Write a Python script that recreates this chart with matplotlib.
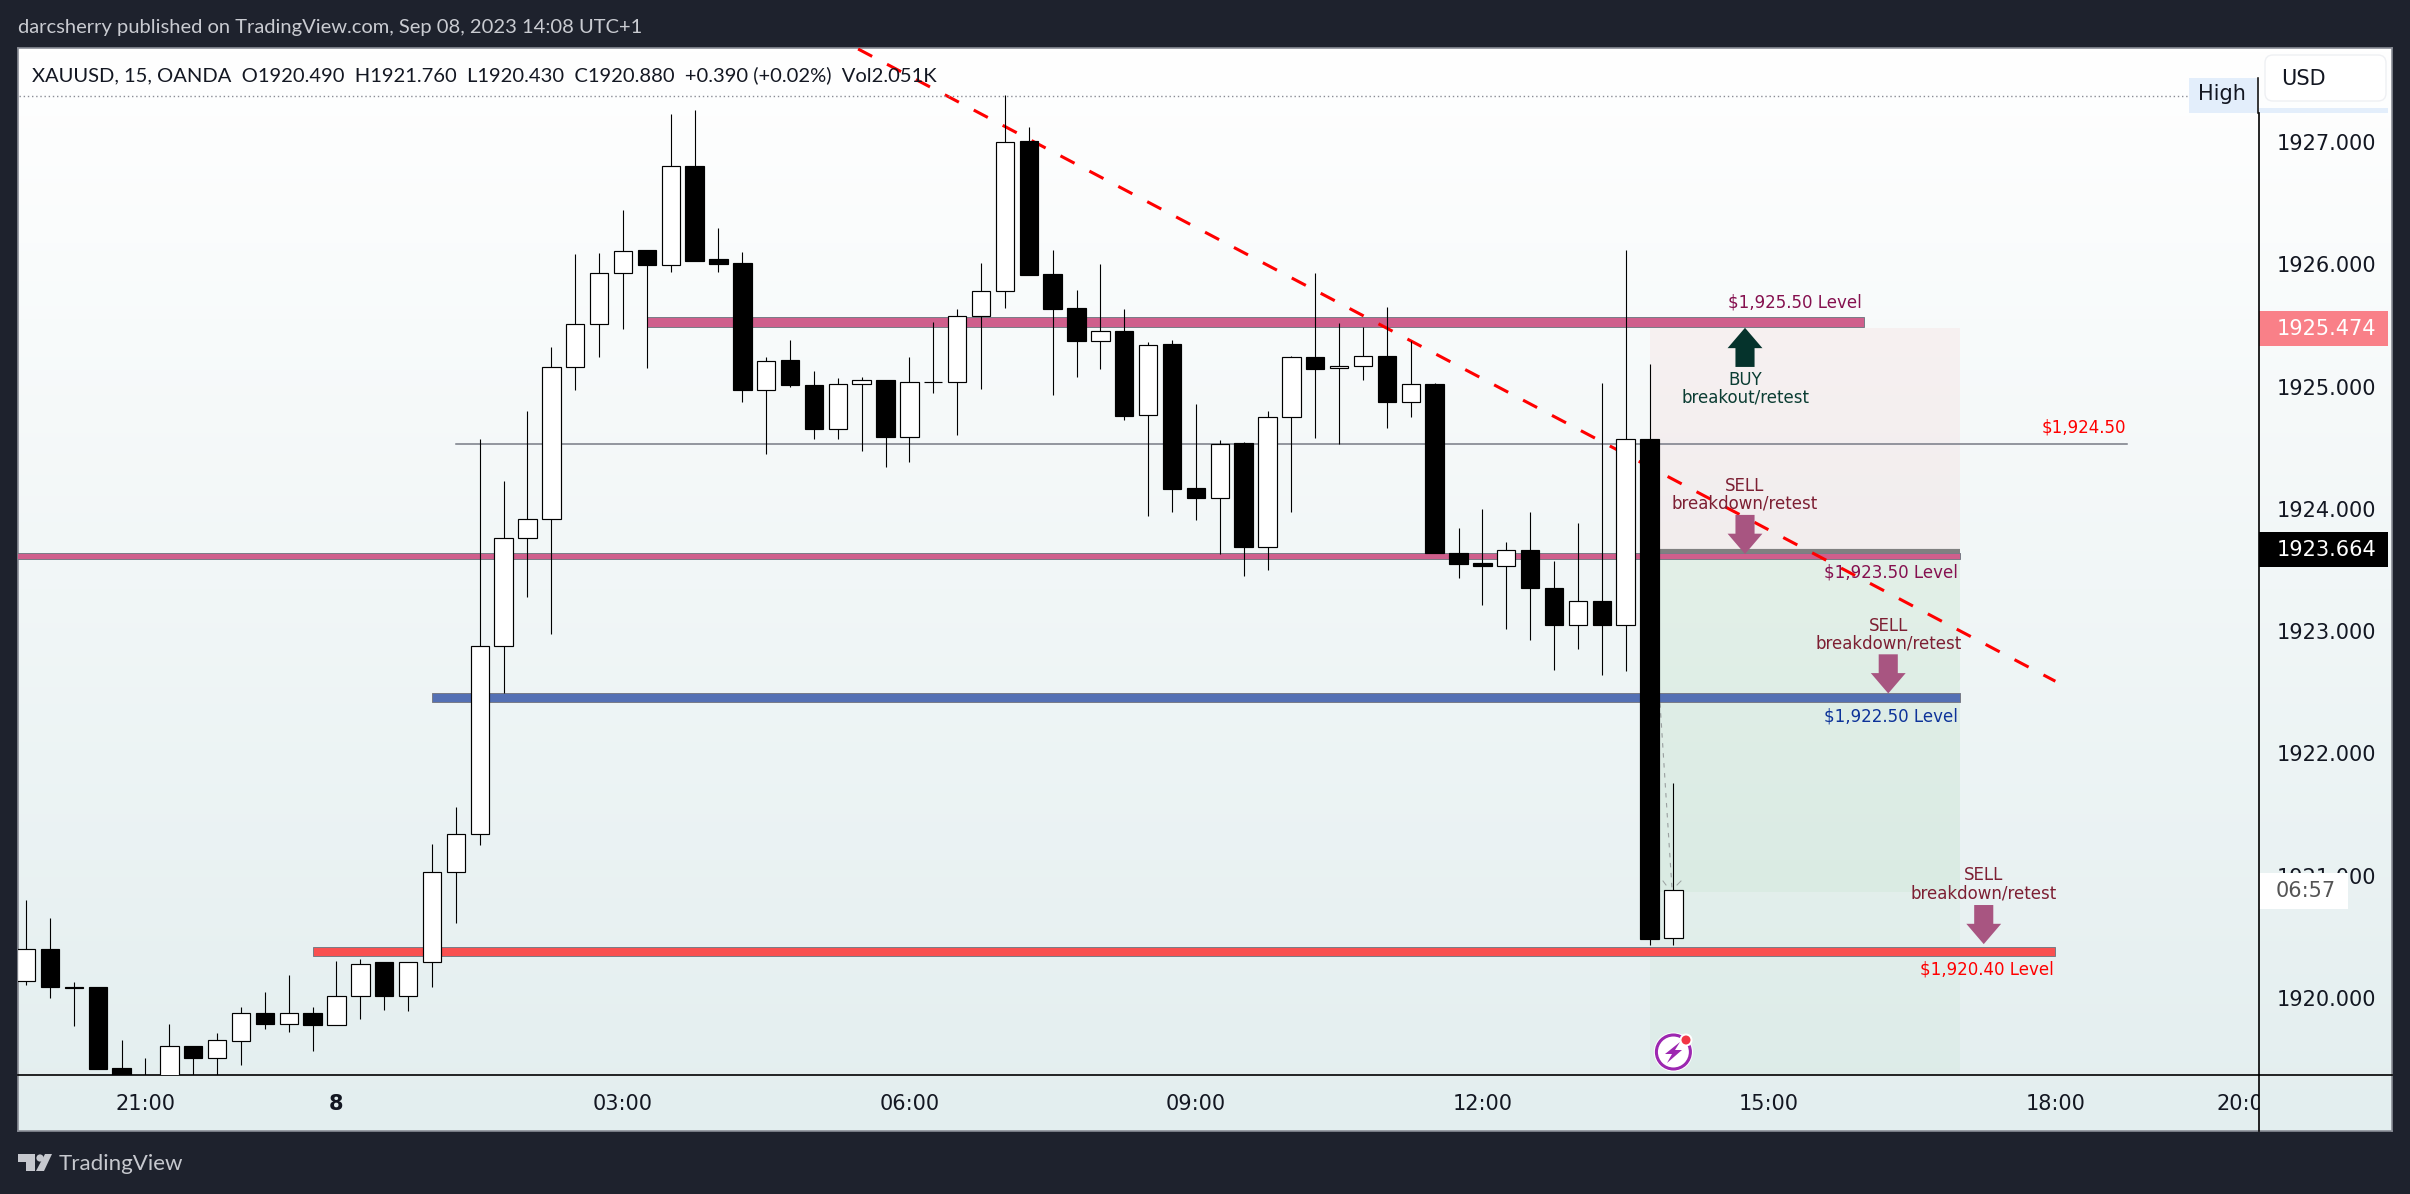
import numpy as np
import matplotlib
matplotlib.use("Agg")
import matplotlib.pyplot as plt
from matplotlib.patches import Rectangle, Polygon, Circle, FancyBboxPatch
from matplotlib.transforms import Bbox

W, H = 2410, 1194
DARK = "#1E222D"

# ---- candles (one every 15 minutes) ----
opens = [1920.14, 1920.40, 1920.09, 1920.09, 1919.43, 1919.25, 1919.30, 1919.61, 1919.51, 1919.65,
         1919.88, 1919.79, 1919.88, 1919.78, 1920.02, 1920.29, 1920.02, 1920.29, 1921.03, 1921.34,
         1922.88, 1923.76, 1923.92, 1925.16, 1925.51, 1925.93, 1926.12, 1925.99, 1926.80, 1926.04,
         1926.01, 1924.97, 1925.22, 1925.01, 1924.65, 1925.02, 1925.05, 1924.59, 1925.04, 1925.04,
         1925.58, 1925.78, 1927.01, 1925.92, 1925.64, 1925.37, 1925.45, 1924.77, 1925.35, 1924.17,
         1924.09, 1924.54, 1923.69, 1924.75, 1925.24, 1925.15, 1925.17, 1925.25, 1924.87, 1925.02,
         1923.64, 1923.56, 1923.53, 1923.66, 1923.35, 1923.05, 1923.25, 1923.05, 1924.57, 1920.49]
highs = [1920.80, 1920.65, 1920.13, 1920.09, 1919.66, 1919.51, 1919.79, 1919.61, 1919.71, 1919.93,
         1920.05, 1920.19, 1919.93, 1920.30, 1920.32, 1920.29, 1920.29, 1921.26, 1921.56, 1924.57,
         1924.23, 1924.80, 1925.32, 1926.08, 1926.09, 1926.44, 1926.12, 1927.23, 1927.26, 1926.30,
         1926.10, 1925.24, 1925.38, 1925.13, 1925.07, 1925.08, 1925.05, 1925.24, 1925.53, 1925.63,
         1926.01, 1927.38, 1927.12, 1926.12, 1925.79, 1926.00, 1925.63, 1925.36, 1925.38, 1924.86,
         1924.56, 1924.55, 1924.80, 1925.25, 1925.93, 1925.52, 1925.49, 1925.65, 1925.37, 1925.03,
         1923.84, 1924.00, 1923.73, 1923.97, 1923.57, 1923.88, 1925.03, 1926.12, 1925.18, 1921.76]
lows = [1920.11, 1920.00, 1919.77, 1919.42, 1919.20, 1919.10, 1919.20, 1919.30, 1919.30, 1919.45,
        1919.75, 1919.72, 1919.57, 1919.78, 1919.83, 1919.90, 1919.89, 1920.09, 1920.61, 1921.25,
        1922.49, 1923.28, 1922.98, 1924.97, 1925.24, 1925.47, 1925.15, 1925.94, 1926.03, 1925.94,
        1924.87, 1924.45, 1925.00, 1924.57, 1924.57, 1924.47, 1924.34, 1924.38, 1924.95, 1924.60,
        1924.98, 1925.64, 1925.91, 1924.93, 1925.08, 1925.14, 1924.73, 1923.94, 1923.97, 1923.91,
        1923.63, 1923.45, 1923.50, 1923.97, 1924.58, 1924.53, 1925.05, 1924.66, 1924.75, 1923.64,
        1923.43, 1923.21, 1923.02, 1922.93, 1922.68, 1922.85, 1922.64, 1922.67, 1920.43, 1920.43]
closes = [1920.40, 1920.09, 1920.08, 1919.42, 1919.30, 1919.33, 1919.61, 1919.51, 1919.66, 1919.88,
          1919.79, 1919.88, 1919.78, 1920.02, 1920.28, 1920.02, 1920.29, 1921.03, 1921.34, 1922.88,
          1923.76, 1923.92, 1925.16, 1925.51, 1925.93, 1926.11, 1925.99, 1926.80, 1926.03, 1926.00,
          1924.97, 1925.21, 1925.01, 1924.65, 1925.02, 1925.05, 1924.59, 1925.04, 1925.04, 1925.58,
          1925.78, 1927.00, 1925.91, 1925.63, 1925.37, 1925.45, 1924.76, 1925.34, 1924.16, 1924.09,
          1924.53, 1923.69, 1924.75, 1925.24, 1925.14, 1925.17, 1925.25, 1924.87, 1925.02, 1923.64,
          1923.55, 1923.53, 1923.66, 1923.35, 1923.05, 1923.25, 1923.05, 1924.57, 1920.48, 1920.88]

# ---- axes labels ----
time_ticks = [5, 13, 25, 37, 49, 61, 73, 85, 93]
time_labels = ["21:00", "8", "03:00", "06:00", "09:00", "12:00", "15:00", "18:00", "20:00"]
price_ticks = [1920, 1921, 1922, 1923, 1924, 1925, 1926, 1927]
price_labels = ["1920.000", "1921.000", "1922.000", "1923.000", "1924.000", "1925.000", "1926.000", "1927.000"]

# ---- support / resistance bands ----
band_starts = [26, -2, 17, 12]
band_ends = [77, 81, 81, 85]
band_tops = [1925.57, 1923.64, 1922.49, 1920.42]
band_bottoms = [1925.49, 1923.59, 1922.42, 1920.34]
band_colors = ["#CF5F8C", "#CF5F8C", "#5470B4", "#F95050"]

# ---- position tool shading ----
shade_starts = [68, 68, 68]
shade_ends = [81, 81, 81]
shade_tops = [1925.48, 1923.66, 1920.87]
shade_bottoms = [1923.66, 1920.87, 1919.0]
shade_colors = ["#F23645", "#4CAF50", "#4CAF50"]
shade_alphas = [0.05, 0.09, 0.045]

trend_x = [34.85, 85]
trend_y = [1927.76, 1922.59]
mid_line_x = [18, 88]
mid_line_y = [1924.53, 1924.53]
guide_x = [68.44, 68.94]
guide_y = [1922.41, 1920.90]

# ---- arrows: x, tip price, base price ----
arrow_x = [72, 72, 78, 82]
arrow_tip = [1925.48, 1923.63, 1922.49, 1920.44]
arrow_base = [1925.16, 1923.95, 1922.81, 1920.76]
arrow_colors = ["#05332C", "#A85581", "#A85581", "#A85581"]

note_x = [72, 72, 78, 82]
note_y = [1924.985, 1924.115, 1922.97, 1920.93]
note_text = ["BUY\nbreakout/retest"] + ["SELL\nbreakdown/retest"] * 3
note_colors = ["#0B3D33", "#7D1F33", "#7D1F33", "#7D1F33"]

level_x = [76.9, 80.92, 80.92, 84.94, 87.96]
level_y = [1925.69, 1923.475, 1922.30, 1920.23, 1924.665]
level_text = ["$1,925.50 Level", "$1,923.50 Level", "$1,922.50 Level", "$1,920.40 Level", "$1,924.50"]
level_colors = ["#85104F", "#85104F", "#0D3399", "#FF0000", "#FF0000"]

tag_prices = [1925.474, 1923.664]
tag_colors = ["#F98088", "#000000"]


def px_box(left, top, right, bottom):
    return [left / W, 1 - bottom / H, (right - left) / W, (bottom - top) / H]


fig = plt.figure(figsize=(W / 100, H / 100), dpi=100, facecolor=DARK)

# gradient behind the whole panel
bg = fig.add_axes(px_box(18, 48, 2392, 1131))
grad = np.linspace(0, 1, 256)[:, None]
rgb = np.zeros((256, 1, 3))
for k, (a, b) in enumerate(zip((255, 255, 255), (0xE3, 0xEE, 0xEF))):
    rgb[:, 0, k] = (a + (b - a) * grad[:, 0]) / 255
bg.imshow(rgb, aspect="auto", extent=(0, 1, 0, 1))
bg.set_xticks([])
bg.set_yticks([])
for s in bg.spines.values():
    s.set_color("#8A8D96")
    s.set_linewidth(1.2)

# price chart
ax = fig.add_axes(px_box(18, 48, 2259, 1075))
ax.patch.set_alpha(0)
ax.set_xlim(-0.34, 93.53)
ax.set_ylim(1919.370, 1927.768)

for x0, x1, t, b, c, al in zip(shade_starts, shade_ends, shade_tops, shade_bottoms, shade_colors, shade_alphas):
    ax.add_patch(Rectangle((x0, b), x1 - x0, t - b, fc=c, ec="none", alpha=al, zorder=1))
ax.plot([68, 81], [1923.655, 1923.655], color="#808080", lw=3, solid_capstyle="butt", zorder=1.5)

for x0, x1, t, b, c in zip(band_starts, band_ends, band_tops, band_bottoms, band_colors):
    ax.add_patch(Rectangle((x0, b), x1 - x0, t - b, fc=c, ec="#787B86", lw=0.7, zorder=2))
ax.plot(mid_line_x, mid_line_y, color="#787B86", lw=1.1, zorder=2)
ax.plot(trend_x, trend_y, color="#FF0000", lw=2.2, dashes=(5.2, 5.5), zorder=2.5)
ax.plot(guide_x, guide_y, color="#9AA0A0", lw=0.8, dashes=(4, 5), zorder=2.5)

# candles
idx = np.arange(len(opens))
ax.vlines(idx, lows, highs, color="black", lw=0.8, zorder=3)
tops = np.maximum(opens, closes)
bottoms = np.minimum(opens, closes)
faces = ["white" if c >= o else "black" for o, c in zip(opens, closes)]
ax.bar(idx, tops - bottoms, bottom=bottoms, width=0.77, color=faces, edgecolor="black", linewidth=0.85, zorder=4)

for x, tip, base, c in zip(arrow_x, arrow_tip, arrow_base, arrow_colors):
    step = 1 if tip > base else -1
    neck = tip - step * abs(tip - base) * 0.52
    ax.add_patch(Polygon([(x, tip), (x + 0.73, neck), (x + 0.4, neck), (x + 0.4, base), (x - 0.4, base),
                          (x - 0.4, neck), (x - 0.73, neck)], fc=c, ec="none", zorder=4.5))

for x, y, s, c in zip(note_x, note_y, note_text, note_colors):
    ax.text(x, y, s, color=c, fontsize=12, ha="center", va="center", linespacing=0.97, zorder=5)
for x, y, s, c in zip(level_x, level_y, level_text, level_colors):
    ax.text(x, y, s, color=c, fontsize=12, ha="right", va="center", zorder=5)

# scales
ax.set_xticks(time_ticks, time_labels)
ax.yaxis.tick_right()
ax.set_yticks(price_ticks, price_labels)
ax.tick_params(axis="x", length=0, pad=14, labelsize=15, labelcolor="#131722")
ax.tick_params(axis="y", length=0, pad=13, labelsize=15, labelcolor="#131722")
ax.get_xticklabels()[1].set_fontweight("bold")
# the last time label runs into the price scale and gets cut there
last = ax.get_xticklabels()[-1]
last.set_clip_on(True)
last.set_clip_box(Bbox([[0, 0], [2259, H]]))
for name, s in ax.spines.items():
    s.set_visible(name == "bottom")
    s.set_color("black")
    s.set_linewidth(1.2)

# price tags on the scale
yt = ax.get_yaxis_transform()
for p, c in zip(tag_prices, tag_colors):
    ax.add_patch(Rectangle((1, p - 0.143), 129 / 2241, 0.286, transform=yt, fc=c, ec="none", clip_on=False, zorder=6))
    ax.text(1 + 18 / 2241, p, "%.3f" % p, transform=yt, color="white", fontsize=15, va="center", clip_on=False, zorder=7)
ax.add_patch(Rectangle((1, 1920.73), 89 / 2241, 0.29, transform=yt, fc="white", ec="none", clip_on=False, zorder=6))
ax.text(1 + 17 / 2241, 1920.875, "06:57", transform=yt, color="#555555", fontsize=15, va="center", clip_on=False, zorder=7)

# chrome drawn in pixel units
ov = fig.add_axes([0, 0, 1, 1], zorder=10)
ov.set_xlim(0, W)
ov.set_ylim(H, 0)
ov.axis("off")
ov.patch.set_alpha(0)

ov.text(18, 27, "darcsherry published on TradingView.com, Sep 08, 2023 14:08 UTC+1", color="#C9CBD1",
        fontsize=14.5, family="Lato", va="center")
ov.text(32, 75, "XAUUSD, 15, OANDA  O1920.490  H1921.760  L1920.430  C1920.880  +0.390 (+0.02%)  Vol2.051K",
        color="#131722", fontsize=14.5, family="Lato", va="center")

ov.plot([19, 2188], [95.5, 95.5], color="#8A8D96", lw=1, dashes=(1, 2))
ov.add_patch(Rectangle((2189, 78), 68, 35, fc="#E3EEFB", ec="none"))
ov.text(2198, 94, "High", color="#131722", fontsize=15, va="center")
ov.add_patch(Rectangle((2259, 108), 129, 5, fc="#E3EEFB", ec="none"))
ov.plot([2257.5, 2257.5], [78, 113], color="black", lw=1.1)
ov.plot([2259, 2259], [113, 1131], color="black", lw=1.2)
ov.plot([2259, 2392], [1075, 1075], color="black", lw=1.2)
ov.add_patch(FancyBboxPatch((2269, 59), 113, 38, boxstyle="round,pad=4,rounding_size=8", fc="white", ec="#EEF0F3", lw=1))
ov.text(2281, 79, "USD", color="#131722", fontsize=15, va="center")

# little arrow head at the end of the grey guide
ov.plot([1663, 1666], [813 + 68, 813 + 72], color="#9AA0A0", lw=0.7)
ov.plot([1681, 1677], [813 + 68, 813 + 72], color="#9AA0A0", lw=0.7)

# broker badge
ov.add_patch(Circle((1673.4, 1052), 19.5, fc="white", ec="none"))
ov.add_patch(Circle((1673.4, 1052), 17, fc="white", ec="#9C27B0", lw=2.2))
ov.add_patch(Polygon([(1680, 1042), (1665, 1054), (1672, 1054), (1667, 1063), (1682, 1050), (1675, 1050)], fc="#9C27B0", ec="none"))
ov.add_patch(Circle((1686, 1040), 6.5, fc="white", ec="none"))
ov.add_patch(Circle((1686, 1040), 4.5, fc="#F23645", ec="none"))

# logo
logo = "#C6C8CE"
ov.add_patch(Polygon([(18, 1154), (35, 1154), (35, 1171), (26, 1171), (26, 1162), (18, 1162)], fc=logo, ec="none"))
ov.add_patch(Circle((40, 1158), 3.6, fc=logo, ec="none"))
ov.add_patch(Polygon([(45, 1154), (52, 1154), (44, 1171), (36, 1171)], fc=logo, ec="none"))
ov.text(59, 1164, "TradingView", color=logo, fontsize=16, family="Lato", va="center")

fig.savefig("out.png", dpi=100, facecolor=fig.get_facecolor())
